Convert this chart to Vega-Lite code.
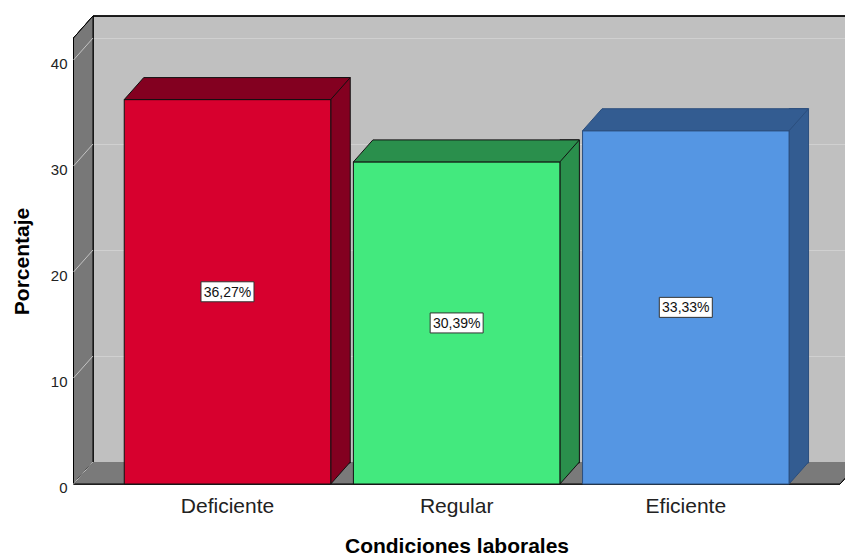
{
  "$schema": "https://vega.github.io/schema/vega-lite/v6.json",
  "width": 752,
  "height": 446,
  "autosize": {"type": "none"},
  "padding": {"left": 93, "top": 16, "right": 0, "bottom": 97},
  "config": {
    "view": {"fill": "#c0c0c0", "stroke": null},
    "font": "Liberation Sans",
    "axis": {"labelFont": "Liberation Sans", "titleFont": "Liberation Sans"},
    "text": {"font": "Liberation Sans"}
  },
  "data": {
    "values": [
      {"condicion": "Deficiente", "porcentaje": 36.27},
      {"condicion": "Regular", "porcentaje": 30.39},
      {"condicion": "Eficiente", "porcentaje": 33.33}
    ]
  },
  "resolve": {"scale": {"x": "independent", "y": "independent", "fill": "independent", "stroke": "independent"}},
  "layer": [
    {
      "layer": [
        {
          "mark": {"type": "rule", "stroke": "#000000", "strokeWidth": 1},
          "encoding": {
            "y": {"datum": 42.08, "type": "quantitative", "scale": {"domain": [0, 42.08], "nice": false}, "axis": null}
          }
        },
        {
          "mark": {"type": "point", "shape": "M0,0 L-19.5,22 L-19.5,-424 L0,-446 Z", "size": 4, "filled": true, "opacity": 1, "fill": "#787878", "stroke": "#000000", "strokeWidth": 1},
          "encoding": {
            "x": {"datum": 0, "type": "quantitative", "scale": {"domain": [0, 1]}, "axis": null},
            "y": {"datum": 0, "type": "quantitative", "scale": {"domain": [0, 42.08], "nice": false}, "axis": null}
          }
        },
        {
          "mark": {"type": "point", "shape": "M766.5,0 L747,22 L-19.5,22 L0,0", "size": 4, "filled": true, "opacity": 1, "fill": "#7a7a7a", "stroke": "#000000", "strokeWidth": 1},
          "encoding": {
            "x": {"datum": 0, "type": "quantitative", "scale": {"domain": [0, 1]}, "axis": null},
            "y": {"datum": 0, "type": "quantitative", "scale": {"domain": [0, 42.08], "nice": false}, "axis": null}
          }
        },
        {
          "data": {"values": [{"valor": 0}, {"valor": 10}, {"valor": 20}, {"valor": 30}, {"valor": 40}]},
          "mark": {"type": "point", "shape": "M0,0 L-19.5,22", "size": 4, "filled": false, "opacity": 1, "stroke": "#c4c4c4", "strokeWidth": 1},
          "encoding": {
            "x": {"datum": 0, "type": "quantitative", "scale": {"domain": [0, 1]}, "axis": null},
            "y": {"field": "valor", "type": "quantitative", "scale": {"domain": [0, 42.08], "nice": false}, "axis": null}
          }
        }
      ]
    },
    {
      "resolve": {"scale": {"fill": "independent", "stroke": "independent"}},
      "encoding": {
        "x": {
          "field": "condicion",
          "type": "nominal",
          "sort": ["Deficiente", "Regular", "Eficiente"],
          "scale": {"type": "band", "domain": ["Deficiente", "Regular", "Eficiente"], "paddingInner": 0.09884, "paddingOuter": 0.19026, "align": 0.582, "round": false},
          "axis": {
            "orient": "bottom",
            "offset": 22,
            "domain": false,
            "ticks": false,
            "tickSize": 0,
            "labelOffset": -19.5,
            "labelPadding": 28,
            "labelBaseline": "alphabetic",
            "labelFontSize": 21,
            "labelColor": "#222222",
            "labelAngle": 0,
            "title": "Condiciones laborales",
            "titleFontSize": 21,
            "titleFontWeight": "bold",
            "titleColor": "#000000",
            "titleX": 363.5,
            "titleY": 68,
            "titleBaseline": "alphabetic"
          }
        },
        "y": {
          "field": "porcentaje",
          "type": "quantitative",
          "scale": {"domain": [0, 42.08], "nice": false},
          "axis": {
            "values": [0, 10, 20, 30, 40],
            "domain": false,
            "ticks": false,
            "tickSize": 0,
            "grid": true,
            "gridColor": "#d0d0d0",
            "gridWidth": 1,
            "labelPadding": 26,
            "labelOffset": 25,
            "labelFontSize": 15,
            "labelColor": "#222222",
            "title": "Porcentaje",
            "titleFontSize": 21,
            "titleFontWeight": "bold",
            "titleColor": "#000000",
            "titleX": -71,
            "titleY": 245,
            "titleBaseline": "middle"
          }
        }
      },
      "layer": [
        {
          "mark": {"type": "bar", "width": 19.5, "xOffset": 93.5, "y2Offset": 1, "strokeWidth": 1},
          "encoding": {
            "y2": {"datum": 0},
            "fill": {"field": "condicion", "type": "nominal", "scale": {"domain": ["Deficiente", "Regular", "Eficiente"], "range": ["#830020", "#2a8f4c", "#335c91"]}, "legend": null},
            "stroke": {"field": "condicion", "type": "nominal", "scale": {"domain": ["Deficiente", "Regular", "Eficiente"], "range": ["#111111", "#111111", "#2b4e7d"]}, "legend": null}
          }
        },
        {
          "mark": {"type": "point", "shape": "M83.75,0 L83.75,22 L103.25,0", "size": 4, "filled": true, "opacity": 1, "strokeWidth": 1},
          "encoding": {
            "y": {"datum": 0, "type": "quantitative"},
            "fill": {"field": "condicion", "type": "nominal", "scale": {"domain": ["Deficiente", "Regular", "Eficiente"], "range": ["#830020", "#2a8f4c", "#335c91"]}, "legend": null},
            "stroke": {"field": "condicion", "type": "nominal", "scale": {"domain": ["Deficiente", "Regular", "Eficiente"], "range": ["#111111", "#111111", "#2b4e7d"]}, "legend": null}
          }
        },
        {
          "mark": {"type": "bar", "xOffset": -19.5, "yOffset": 22, "y2Offset": 22, "strokeWidth": 1},
          "encoding": {
            "y2": {"datum": 0},
            "fill": {"field": "condicion", "type": "nominal", "scale": {"domain": ["Deficiente", "Regular", "Eficiente"], "range": ["#d7002e", "#43e97e", "#5596e3"]}, "legend": null},
            "stroke": {"field": "condicion", "type": "nominal", "scale": {"domain": ["Deficiente", "Regular", "Eficiente"], "range": ["#111111", "#111111", "#2b4e7d"]}, "legend": null}
          }
        },
        {
          "mark": {"type": "point", "shape": "M-122.75,22 L83.75,22 L103.25,0 L-103.25,0 Z", "size": 4, "filled": true, "opacity": 1, "strokeWidth": 1},
          "encoding": {
            "fill": {"field": "condicion", "type": "nominal", "scale": {"domain": ["Deficiente", "Regular", "Eficiente"], "range": ["#830020", "#2a8f4c", "#335c91"]}, "legend": null},
            "stroke": {"field": "condicion", "type": "nominal", "scale": {"domain": ["Deficiente", "Regular", "Eficiente"], "range": ["#111111", "#111111", "#2b4e7d"]}, "legend": null}
          }
        }
      ]
    },
    {
      "encoding": {
        "x": {
          "field": "condicion",
          "type": "nominal",
          "sort": ["Deficiente", "Regular", "Eficiente"],
          "scale": {"type": "band", "domain": ["Deficiente", "Regular", "Eficiente"], "paddingInner": 0.09884, "paddingOuter": 0.19026, "align": 0.582, "round": false},
          "axis": null
        },
        "y": {
          "field": "porcentaje",
          "type": "quantitative",
          "scale": {"domain": [0, 84.16], "nice": false},
          "axis": null
        }
      },
      "layer": [
        {
          "mark": {"type": "point", "shape": "M-26.5,-10 H26.5 V10 H-26.5 Z", "size": 4, "filled": true, "opacity": 1, "fill": "#ffffff", "stroke": "#333333", "strokeWidth": 1, "xOffset": -19.5, "yOffset": 22}
        },
        {
          "mark": {"type": "text", "fontSize": 14, "color": "#111111", "baseline": "middle", "align": "center", "xOffset": -19.5, "yOffset": 23, "text": {"expr": "replace(format(datum.porcentaje, '.2f'), '.', ',') + '%'"}}
        }
      ]
    }
  ]
}
